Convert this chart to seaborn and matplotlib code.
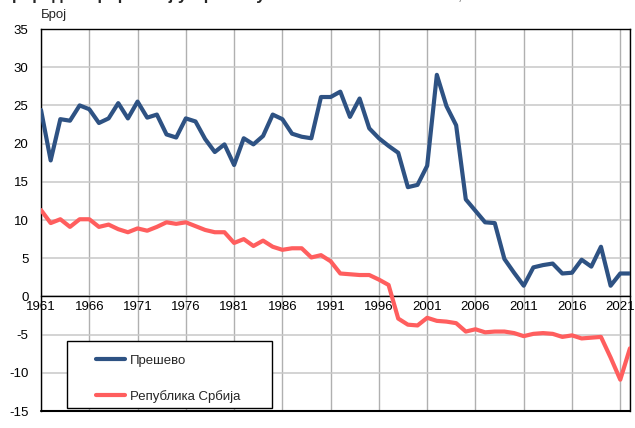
import numpy as np
import pandas as pd
import seaborn as sns
import matplotlib.pyplot as plt
from matplotlib.patches import Rectangle

years = list(range(1961, 2023))

presevo = [24.4, 17.8, 23.2, 23.0, 25.0, 24.5, 22.7, 23.3, 25.3, 23.3,
           25.5, 23.4, 23.8, 21.2, 20.8, 23.3, 22.9, 20.6, 18.9, 19.9,
           17.2, 20.7, 19.9, 21.0, 23.8, 23.2, 21.3, 20.9, 20.7, 26.1,
           26.1, 26.8, 23.5, 25.9, 22.0, 20.7, 19.7, 18.8, 14.3, 14.6,
           17.1, 29.0, 24.9, 22.4, 12.7, 11.2, 9.7, 9.6, 4.9, 3.1,
           1.4, 3.8, 4.1, 4.3, 3.0, 3.1, 4.8, 3.9, 6.5, 1.4,
           3.0, 3.0]

srbija = [11.3, 9.6, 10.1, 9.1, 10.1, 10.1, 9.1, 9.4, 8.8, 8.4,
          8.9, 8.6, 9.1, 9.7, 9.5, 9.7, 9.2, 8.7, 8.4, 8.4,
          7.0, 7.5, 6.6, 7.3, 6.5, 6.1, 6.3, 6.3, 5.1, 5.4,
          4.6, 3.0, 2.9, 2.8, 2.8, 2.2, 1.5, -2.9, -3.7, -3.8,
          -2.8, -3.2, -3.3, -3.5, -4.6, -4.3, -4.7, -4.6, -4.6, -4.8,
          -5.2, -4.9, -4.8, -4.9, -5.3, -5.1, -5.5, -5.4, -5.3, -8.0,
          -10.9, -6.8]

series_names = ['Прешево', 'Република Србија']
colors = ['#2E5283', '#FF5E5E']

x_ticks = list(range(1961, 2022, 5))
y_ticks = list(range(-15, 36, 5))

df = pd.DataFrame({
    'year': years * 2,
    'value': presevo + srbija,
    'series': [series_names[0]] * len(years) + [series_names[1]] * len(years),
})

sns.set_style('white')
plt.rcParams['font.family'] = ['Liberation Sans', 'DejaVu Sans']

fig = plt.figure(figsize=(6.35, 4.28), dpi=100)
ax = fig.add_axes([0.0646, 0.0397, 0.9274, 0.8925])

sns.lineplot(data=df, x='year', y='value', hue='series', palette=colors,
             linewidth=3, ax=ax, legend=True, zorder=3)

ax.set_xlim(1961, 2022)
ax.set_ylim(-15, 35)
ax.set_xticks(x_ticks + [2022])
ax.set_xticklabels([str(y) for y in x_ticks] + [''])
ax.set_yticks(y_ticks)
ax.set_yticklabels([str(y) for y in y_ticks])
ax.set_xlabel('')
ax.set_ylabel('')

ax.grid(axis='y', color='#c8c8c8', linewidth=1.1, zorder=0)
ax.grid(axis='x', color='#b0b0b0', linewidth=1.0, zorder=0)

for side in ['left', 'top', 'right']:
    ax.spines[side].set_color('black')
    ax.spines[side].set_linewidth(1.0)
ax.spines['bottom'].set_position(('data', 0))
ax.spines['bottom'].set_color('black')
ax.spines['bottom'].set_linewidth(1.0)
ax.axhline(-15, color='black', linewidth=1.5, clip_on=False, zorder=4)

ax.tick_params(axis='both', length=0, labelsize=9.5, colors='black')
ax.tick_params(axis='x', pad=3)
ax.tick_params(axis='y', pad=9)

ax.text(0.0, 1.022, 'Број', transform=ax.transAxes, ha='left', va='bottom',
        fontsize=9.5)

# title is clipped at the top edge in the original
fig.text(0.0, 1.0, 'Природни прираштај у Прешеву', ha='left',
         va='baseline', fontsize=12, fontweight='bold')
fig.text(0.5, 1.0, 'на 1000 становника, 1961–2022', ha='left',
         va='baseline', fontsize=11, color='#777777')

# legend: frame drawn separately so the entries sit indented like the original
ax.add_patch(Rectangle((0.044, 0.008), 0.348, 0.175, transform=ax.transAxes,
                       facecolor='white', edgecolor='black', linewidth=1.0,
                       zorder=5))
leg = ax.legend(loc='lower left', bbox_to_anchor=(0.093, 0.022),
                frameon=False, fontsize=9.5,
                handlelength=2.2, handletextpad=0.4, labelspacing=1.75,
                borderpad=0, borderaxespad=0, title=None)
leg.set_zorder(6)
for line in leg.get_lines():
    line.set_linewidth(3)

fig.savefig('out.png', dpi=100)
